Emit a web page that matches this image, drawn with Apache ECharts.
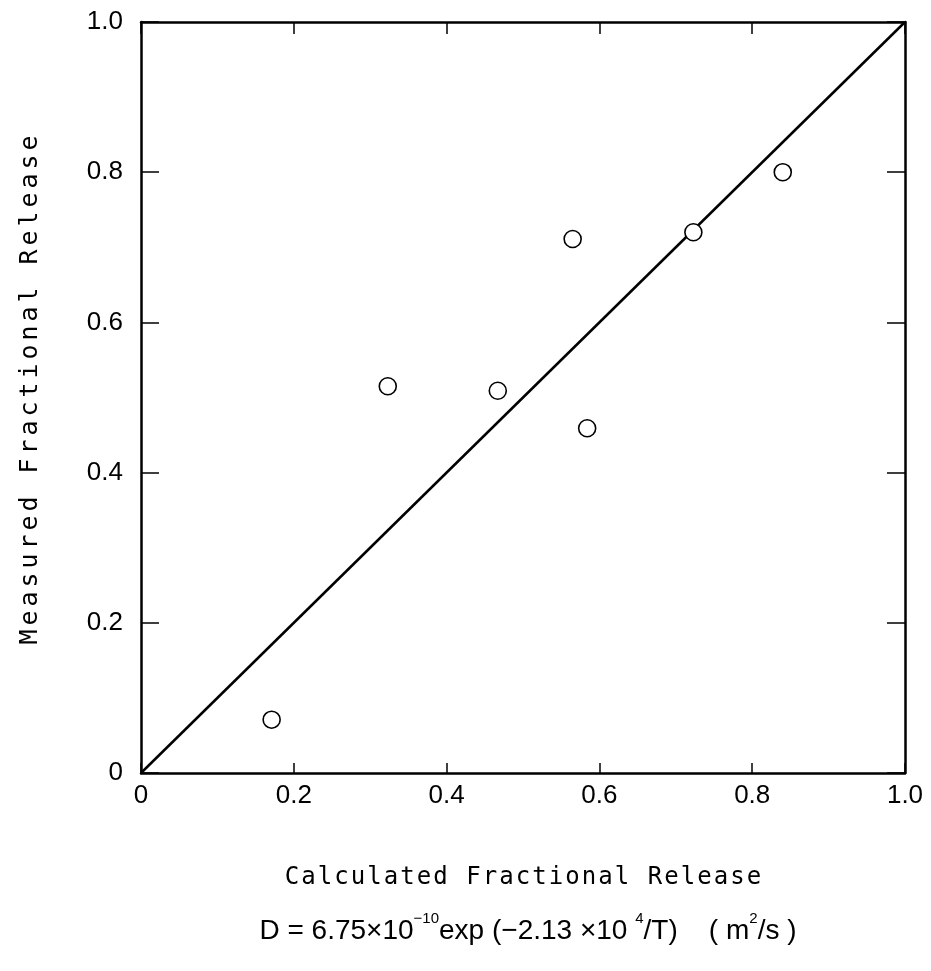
<!DOCTYPE html>
<html>
<head>
<meta charset="utf-8">
<script src="https://cdn.jsdelivr.net/npm/echarts@6/dist/echarts.min.js"></script>
<style>html,body{margin:0;padding:0;background:#fff}#c{width:931px;height:971px}</style>
</head>
<body>
<div id="c"></div>
<script>
const calculated = [0.171, 0.323, 0.467, 0.584, 0.565, 0.723, 0.840];
const measured   = [0.071, 0.515, 0.509, 0.459, 0.711, 0.720, 0.800];
const lineX = [0, 1];
const lineY = [0, 1];
const ticks = [0, 0.2, 0.4, 0.6, 0.8, 1.0];
const xTitle = 'Calculated Fractional Release';
const yTitle = 'Measured Fractional Release';

const fmt = v => (v === 0 ? '0' : (v === 1 ? '1.0' : v.toFixed(1)));
// spread letters like the plotter lettering of the original
const spaced = s => s.split('').map(ch => '{c|' + ch + '}').join('');
const chart = echarts.init(document.getElementById('c'));
const axisLine = {show: true, onZero: false, lineStyle: {color: '#000', width: 2.5}};
const labelStyle = {color: '#000', fontSize: 26, fontFamily: 'Liberation Sans, Arial, sans-serif'};
const plotFont = '"DejaVu Sans Mono", "Liberation Mono", monospace';
chart.setOption({
  animation: false,
  backgroundColor: '#fff',
  grid: {left: 141, right: 26, top: 22, bottom: 198},
  xAxis: [
    {type: 'value', min: 0, max: 1, interval: 0.2, position: 'bottom',
     axisLine, splitLine: {show: false},
     axisTick: {inside: true, length: 10, lineStyle: {color: '#000', width: 1.5}},
     axisLabel: Object.assign({margin: 10, formatter: fmt}, labelStyle)},
    {type: 'value', min: 0, max: 1, interval: 0.2, position: 'top',
     axisLine, splitLine: {show: false},
     axisTick: {inside: true, length: 12, lineStyle: {color: '#000', width: 1.5}},
     axisLabel: {show: false}}
  ],
  yAxis: [
    {type: 'value', min: 0, max: 1, interval: 0.2, position: 'left',
     axisLine, splitLine: {show: false},
     axisTick: {inside: true, length: 18, lineStyle: {color: '#000', width: 1.5}},
     axisLabel: Object.assign({margin: 18, formatter: fmt}, labelStyle)},
    {type: 'value', min: 0, max: 1, interval: 0.2, position: 'right',
     axisLine, splitLine: {show: false},
     axisTick: {inside: true, length: 18, lineStyle: {color: '#000', width: 1.5}},
     axisLabel: {show: false}}
  ],
  series: [
    {type: 'line', data: lineX.map((x, i) => [x, lineY[i]]), showSymbol: false,
     lineStyle: {color: '#000', width: 2.5}, silent: true, z: 2},
    {type: 'scatter', data: calculated.map((x, i) => [x, measured[i]]),
     symbol: 'circle', symbolSize: 17,
     itemStyle: {color: '#fff', borderColor: '#000', borderWidth: 1.6, opacity: 1}, z: 3}
  ],
  graphic: [
    {type: 'text', x: 523, y: 878,
     style: {text: spaced(xTitle), align: 'center', verticalAlign: 'middle',
             rich: {c: {fill: '#000', fontSize: 24, fontFamily: plotFont, width: 16.5, align: 'center'}}}},
    {type: 'text', x: 30, y: 390, rotation: Math.PI / 2,
     style: {text: spaced(yTitle), align: 'center', verticalAlign: 'middle',
             rich: {c: {fill: '#000', fontSize: 25, fontFamily: plotFont, width: 19, align: 'center'}}}},
    {type: 'text', x: 528, y: 928,
     style: {
       text: '{m|D = 6.75×10}{s|−10}{m|exp (−2.13 ×10 }{s|4}{m|/T)    ( m}{s|2}{m|/s )}',
       align: 'center', verticalAlign: 'middle',
       rich: {
         m: {fill: '#000', fontSize: 28, fontFamily: 'Liberation Sans, Arial, sans-serif', verticalAlign: 'bottom', lineHeight: 34},
         s: {fill: '#000', fontSize: 15, fontFamily: 'Liberation Sans, Arial, sans-serif', verticalAlign: 'top', lineHeight: 34}
       }
     }}
  ]
});
</script>
</body>
</html>
